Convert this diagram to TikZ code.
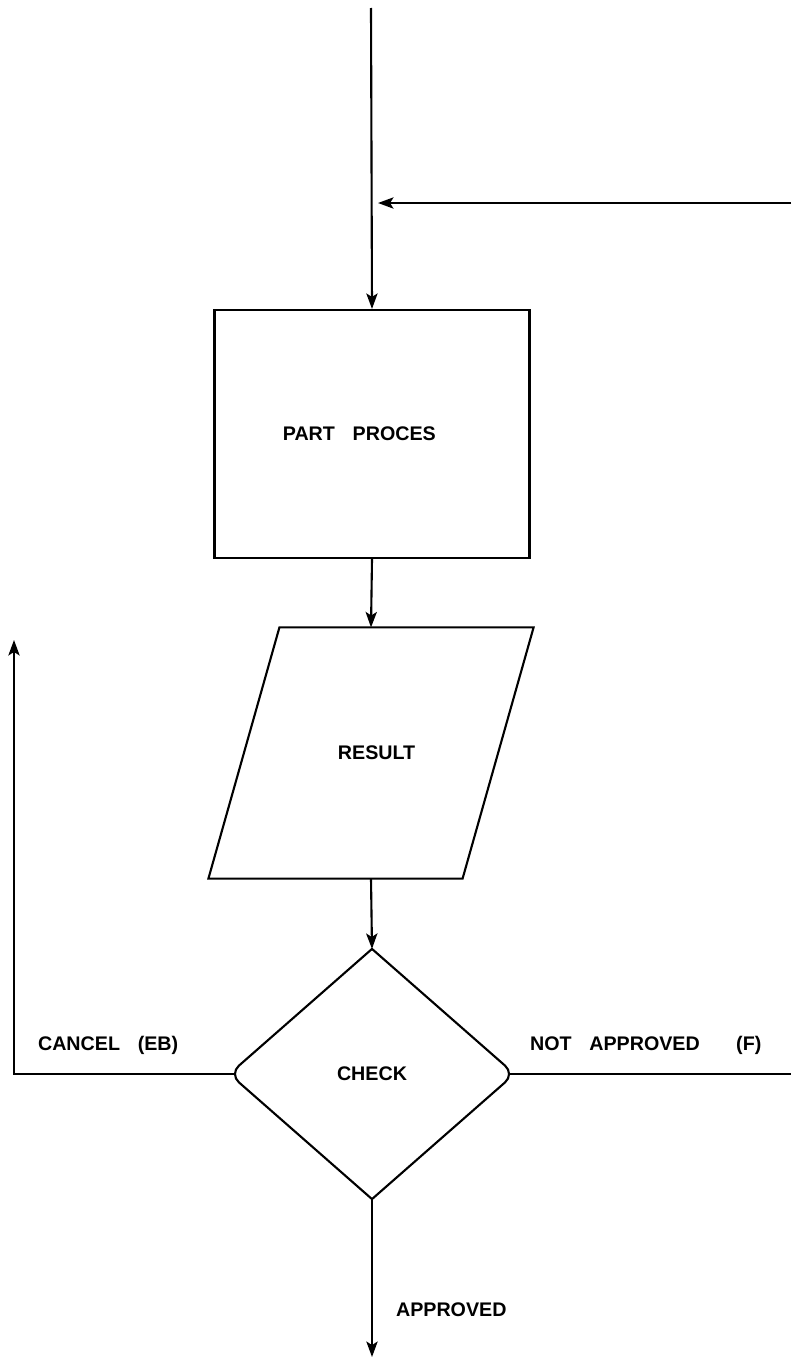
\documentclass[tikz,border=0pt]{standalone}
\usepackage{fontspec}
\setmainfont{Liberation Sans}
\usetikzlibrary{shapes.geometric}
\usetikzlibrary{arrows.meta}
\usetikzlibrary{positioning}
\usetikzlibrary{calc}

\newcommand{\wsp}{\hspace{0.9em}} % wide word gap of the plotter lettering

\begin{document}
\begin{tikzpicture}[x=0.025cm, y=-0.025cm, line width=1.5pt,
    every node/.style={font=\fontsize{14}{16}\selectfont\bfseries},
    box/.style={draw, rectangle, minimum width=7.875cm, minimum height=6.2cm},
    io/.style={rectangle, minimum width=6.3cm, minimum height=6.225cm},
    decision/.style={diamond, minimum width=7.075cm, minimum height=6.2cm, inner sep=0pt},
    arr/.style={-{Stealth[length=11pt, width=8pt, inset=2.5pt]}},
    lbl/.style={anchor=west, inner sep=0pt}]

        \useasboundingbox (0,0) rectangle (791,1361);

        \def\slant{35.5} % half the horizontal lean of the parallelogram

        \node[box] (proc) at (372,434) {PART\wsp PROCES\hspace*{18pt}};
        \node[io] (res) at (371,753) {\hspace*{8pt}RESULT};
        \node[decision] (chk) at (372,1074) {CHECK};

        \coordinate (top) at (371,8);
        \coordinate (feedin) at (791,203);
        \coordinate (cancelend) at (14,640);
        \coordinate (notapp) at (791,1074);
        \coordinate (approved) at (372,1357);

        % parallelogram round the result node
        \draw ($(res.north west)+(\slant,0)$) -- ($(res.north east)+(\slant,0)$)
          -- ($(res.south east)-(\slant,0)$) -- ($(res.south west)-(\slant,0)$) -- cycle;

        % diamond with rounded side corners only
        \draw (chk.north) [rounded corners=9pt] -- (chk.east) [sharp corners] -- (chk.south)
          [rounded corners=9pt] -- (chk.west) [sharp corners] -- cycle;

        \draw[arr] (top) -- (proc.north);
        \draw[arr, shorten >=5pt] (feedin) -- (feedin -| top);
        \draw[arr] (proc.south) -- (res.north);
        \draw[arr] (res.south) -- (chk.north);
        \draw[arr] (chk.south) -- (approved);
        \draw[arr, shorten <=-3pt] (chk.west) -- (chk.west -| cancelend) -- (cancelend);
        \draw[shorten <=-3pt] (chk.east) -- (notapp);

        \node[lbl] (cancel) at (37,1045) {CANCEL\wsp(EB)};
        \node[lbl] (notlbl) at (529,1045) {NOT\wsp APPROVED\hspace{1.85em}(F)};
        \node[lbl] (applbl) at (395,1310) {APPROVED};

\end{tikzpicture}
\end{document}
